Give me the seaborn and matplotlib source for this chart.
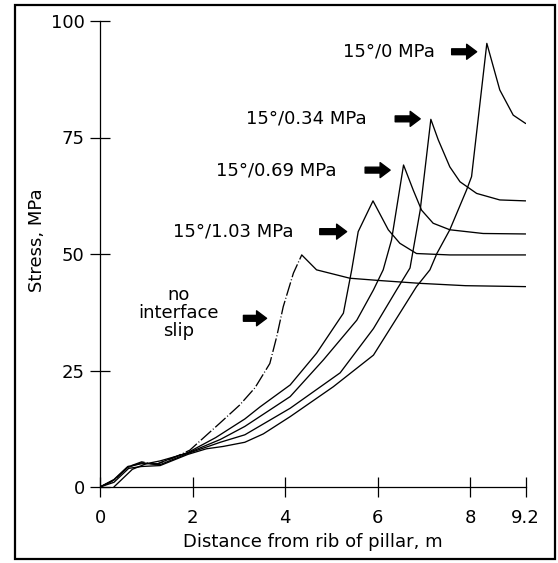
import numpy as np
import matplotlib
matplotlib.use("Agg")
import matplotlib.pyplot as plt
import seaborn as sns
from matplotlib.patches import Rectangle

# --- data (distance, m / stress, MPa) ---
x_103 = [0, 0.3, 0.6, 0.9, 1.25, 1.6, 1.9, 2.5, 3.13, 3.46, 4.11, 4.68, 5.26, 5.44, 5.58, 5.90, 6.23, 6.48, 6.84, 7.56, 9.2]
y_103 = [0, 1.6, 4.4, 5.0, 5.0, 6.4, 7.4, 10.6, 14.6, 17.2, 21.9, 28.7, 37.3, 46.6, 54.8, 61.4, 55.2, 52.3, 50.1, 49.8, 49.8]

x_069 = [0.3, 0.7, 1.0, 1.3, 1.9, 2.6, 3.13, 4.11, 4.83, 5.55, 5.91, 6.12, 6.30, 6.56, 6.77, 6.95, 7.20, 7.56, 8.28, 9.2]
y_069 = [0, 3.8, 5.0, 5.6, 7.3, 10.2, 13.0, 19.4, 27.3, 35.8, 42.3, 46.6, 53.0, 69.1, 63.7, 59.4, 56.6, 55.2, 54.4, 54.3]

x_034 = [0, 0.3, 0.6, 0.9, 1.3, 1.9, 2.6, 3.13, 4.11, 5.19, 5.91, 6.41, 6.70, 6.92, 7.15, 7.31, 7.56, 7.78, 8.14, 8.64, 9.2]
y_034 = [0, 1.5, 4.2, 5.2, 4.8, 7.2, 9.6, 11.2, 16.9, 24.5, 34.0, 42.3, 47.0, 59.4, 78.9, 74.5, 68.7, 65.5, 63.0, 61.6, 61.4]

x_0 = [0, 0.3, 0.62, 0.9, 1.3, 1.9, 2.3, 2.66, 3.13, 3.53, 4.11, 5.04, 5.91, 6.48, 6.84, 7.13, 7.28, 7.56, 7.92, 8.03, 8.36, 8.64, 8.93, 9.2]
y_0 = [0, 1.0, 4.0, 4.4, 4.6, 7.0, 8.2, 8.7, 9.6, 11.4, 15.1, 21.5, 28.3, 37.3, 43.0, 46.6, 50.1, 55.2, 63.7, 66.6, 95.2, 85.2, 79.8, 78.0]

x_noslip = [0, 0.3, 0.6, 0.9, 1.2, 1.6, 1.94, 2.59, 3.02, 3.35, 3.67, 3.82, 3.96, 4.18, 4.36, 4.68, 5.40, 6.05, 6.92, 7.9, 9.2]
y_noslip = [0, 1.4, 4.3, 5.4, 4.8, 6.3, 7.9, 13.7, 17.6, 21.3, 26.5, 32.3, 38.7, 45.9, 49.8, 46.6, 44.8, 44.3, 43.7, 43.2, 43.0]

labels = ["15°/0 MPa", "15°/0.34 MPa", "15°/0.69 MPa", "15°/1.03 MPa", "no\ninterface\nslip"]
# label anchor and arrow tail -> tip, in data units
label_xy = [(7.24, 93.4), (5.76, 79.0), (5.12, 68.0), (4.18, 54.8), (1.69, 37.3)]
arrow_x = [(7.60, 8.14), (6.38, 6.92), (5.73, 6.27), (4.75, 5.33), (3.10, 3.60)]
arrow_y = [93.4, 79.0, 68.0, 54.8, 36.2]

xticks = [0, 2, 4, 6, 8, 9.2]
yticks = [0, 25, 50, 75, 100]

# --- style ---
sns.set_style("ticks")
plt.rcParams.update({
    'font.family': 'DejaVu Sans',
    'font.size': 13,
    'text.color': 'k',
    'axes.labelcolor': 'k',
    'axes.edgecolor': 'k',
    'axes.linewidth': 0.9,
    'lines.scale_dashes': False,
})

fig = plt.figure(figsize=(5.58, 5.63), dpi=100)
ax = fig.add_axes([100 / 558, 1 - 487 / 563, 425.7 / 558, 466 / 563])

lw = 0.95
for xs, ys in [(x_103, y_103), (x_069, y_069), (x_034, y_034), (x_0, y_0)]:
    sns.lineplot(x=xs, y=ys, ax=ax, color='k', lw=lw, sort=False, estimator=None)

# no interface slip: dash-dot on the rise, solid after the peak
pk = int(np.argmax(y_noslip))
sns.lineplot(x=x_noslip[:pk + 1], y=y_noslip[:pk + 1], ax=ax, color='k', lw=lw,
             sort=False, estimator=None, linestyle=(0, (10, 1.6, 0.7, 1.6)))
sns.lineplot(x=x_noslip[pk:], y=y_noslip[pk:], ax=ax, color='k', lw=lw,
             sort=False, estimator=None)

for txt, (tx, ty), (ax0, ax1), ay in zip(labels, label_xy, arrow_x, arrow_y):
    if '\n' in txt:
        ax.text(tx, ty, txt, ha='center', va='center', fontsize=13, linespacing=1.0)
    else:
        ax.text(tx, ty, txt, ha='right', va='center', fontsize=13)
    ax.annotate('', xy=(ax1, ay), xytext=(ax0, ay),
                arrowprops=dict(arrowstyle='simple,head_length=0.6,head_width=0.9,tail_width=0.35',
                                color='k', shrinkA=0, shrinkB=0, mutation_scale=12))

ax.set_xlim(0, 9.2)
ax.set_ylim(0, 100)
ax.set_xticks(xticks)
ax.set_xticklabels(['0', '2', '4', '6', '8', '9.2'])
ax.set_yticks(yticks)
ax.tick_params(direction='inout', length=14, width=0.9, labelsize=13, pad=4, colors='k')
ax.tick_params(axis='x', pad=9)
sns.despine(ax=ax)
ax.set_xlabel("Distance from rib of pillar, m", fontsize=13, labelpad=4)
ax.set_ylabel("Stress, MPa", fontsize=13)
ax.yaxis.set_label_coords(-0.127, 0.53)

# outer frame of the scanned figure
fig.patches.append(Rectangle((15 / 558, 1 - 559 / 563), 540 / 558, 554 / 563,
                             transform=fig.transFigure, fill=False, ec='k', lw=1.6))

fig.savefig("out.png", dpi=100)
